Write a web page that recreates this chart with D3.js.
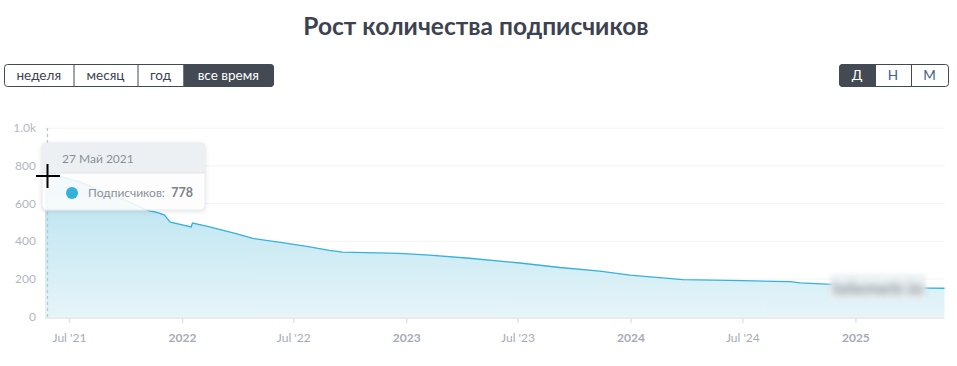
<!DOCTYPE html>
<html>
<head>
<meta charset="utf-8">
<script src="https://cdn.jsdelivr.net/npm/d3@7/dist/d3.min.js"></script>
<style>
  html, body { margin: 0; padding: 0; background: #fff; }
  svg { display: block; font-family: Lato, "Open Sans", sans-serif; }
</style>
</head>
<body>
<svg id="chart" width="957" height="366"></svg>
<script>
// ---- data ----
const dates = ["2021-05-23","2021-05-27","2021-06-15","2021-07-18","2021-08-19","2021-09-29","2021-11-09","2021-11-20","2021-12-03","2021-12-13","2022-01-16","2022-01-18","2022-02-10","2022-03-30","2022-04-26","2022-06-13","2022-07-23","2022-08-29","2022-09-19","2022-12-21","2023-02-08","2023-04-14","2023-07-05","2023-09-08","2023-11-12","2023-12-31","2024-03-26","2024-07-02","2024-09-17","2024-10-03","2024-11-16","2025-04-30","2025-05-26"];
const subscribers = [780,778,746,715,672,619,561,555,540,502,476,497,480,441,415,393,373,352,343,336,327,310,285,261,242,221,197,191,186,179,173,152,151];
const yTicks = [0,200,400,600,800,1000];
const yTickLabels = ["0","200","400","600","800","1.0k"];
const xTickDates = ["2021-07-01","2022-01-01","2022-07-01","2023-01-01","2023-07-01","2024-01-01","2024-07-01","2025-01-01"];
const xTickLabels = ["Jul '21","2022","Jul '22","2023","Jul '23","2024","Jul '24","2025"];
const periodButtons = ["неделя","месяц","год","все время"];
const scaleButtons = ["Д","Н","М"];
const title = "Рост количества подписчиков";
const tooltipDate = "27 Май 2021";
const tooltipLabel = "Подписчиков:";
const tooltipValue = 778;
const watermark = "telemetr.io";

const parse = d3.timeParse("%Y-%m-%d");
const data = dates.map((d,i)=>({date:parse(d), v:subscribers[i]}));

const svg = d3.select("#chart");

// gradient / filters
const defs = svg.append("defs");
const grad = defs.append("linearGradient").attr("id","fillGrad").attr("x1",0).attr("y1",0).attr("x2",0).attr("y2",1);
grad.append("stop").attr("offset","0%").attr("stop-color","#b4e1ef");
grad.append("stop").attr("offset","100%").attr("stop-color","#e5f4f9");
const sh = defs.append("filter").attr("id","shadow").attr("x","-20%").attr("y","-20%").attr("width","140%").attr("height","160%");
sh.append("feDropShadow").attr("dx",0).attr("dy",1).attr("stdDeviation",2).attr("flood-color","#000").attr("flood-opacity",0.12);
const blur = defs.append("filter").attr("id","blur").attr("x","-20%").attr("y","-50%").attr("width","140%").attr("height","200%");
blur.append("feGaussianBlur").attr("stdDeviation",3.6);
const blur2 = defs.append("filter").attr("id","blur2").attr("x","-20%").attr("y","-50%").attr("width","140%").attr("height","200%");
blur2.append("feGaussianBlur").attr("stdDeviation",2);

// title
svg.append("text").attr("x",476).attr("y",35).attr("text-anchor","middle")
  .attr("font-size",24.5).attr("font-weight",700).attr("fill","#3d4250").text(title);

// button groups
function buttonGroup(x0, y0, h, widths, labels, activeIdx, textColors) {
  const g = svg.append("g");
  let x = x0;
  const total = d3.sum(widths);
  g.append("rect").attr("x",x0+0.5).attr("y",y0+0.5).attr("width",total).attr("height",h)
    .attr("rx",3).attr("fill","#fff").attr("stroke","#434a54").attr("stroke-width",1);
  widths.forEach((w,i)=>{
    if (i===activeIdx) {
      const r = g.append("path");
      const first = i===0, last = i===widths.length-1;
      const xl = x+0.5, xr = x+w+0.5, yt = y0+0.5, yb = y0+h+0.5, rr = 3;
      let p = "";
      p += first ? `M${xl+rr},${yt}` : `M${xl},${yt}`;
      p += last ? `L${xr-rr},${yt}Q${xr},${yt} ${xr},${yt+rr}L${xr},${yb-rr}Q${xr},${yb} ${xr-rr},${yb}` : `L${xr},${yt}L${xr},${yb}`;
      p += first ? `L${xl+rr},${yb}Q${xl},${yb} ${xl},${yb-rr}L${xl},${yt+rr}Q${xl},${yt} ${xl+rr},${yt}Z` : `L${xl},${yb}Z`;
      r.attr("d",p).attr("fill","#434a54").attr("stroke","#434a54");
    }
    if (i>0) g.append("line").attr("x1",x+0.5).attr("x2",x+0.5).attr("y1",y0).attr("y2",y0+h+1).attr("stroke","#434a54");
    g.append("text").attr("x",x+w/2).attr("y",y0+h/2+4.5).attr("text-anchor","middle")
      .attr("font-size",13.5).attr("fill", i===activeIdx ? "#fff" : textColors)
      .text(labels[i]);
    x += w;
  });
}
buttonGroup(4, 64, 22, [69.5,64,46,89.5], periodButtons, 3, "#3d4250");
buttonGroup(839, 64, 22, [36,36,37], scaleButtons, 0, "#3f5f8a");

// scales
const x = d3.scaleTime().domain([parse("2021-05-23"), parse("2025-05-26")]).range([45, 944.5]);
const y = d3.scaleLinear().domain([0,1000]).range([316.7, 128.2]);

// grid
svg.append("g").selectAll("line").data(yTicks.filter(d=>d>0)).join("line")
  .attr("x1",45).attr("x2",944.5).attr("y1",d=>y(d)).attr("y2",d=>y(d))
  .attr("stroke","#f3f3f3").attr("stroke-width",1);

// y labels
svg.append("g").selectAll("text").data(yTicks).join("text")
  .attr("x",36).attr("y",(d)=>y(d)+4).attr("text-anchor","end")
  .attr("font-size",12).attr("fill","#b3b8c0")
  .text((d,i)=>yTickLabels[i]);

// area + line
const area = d3.area().x(d=>x(d.date)).y0(y(0)).y1(d=>y(d.v));
svg.append("path").datum(data).attr("d",area).attr("fill","url(#fillGrad)");
const line = d3.line().x(d=>x(d.date)).y(d=>y(d.v));
svg.append("path").datum(data).attr("d",line).attr("fill","none").attr("stroke","#36b2d8").attr("stroke-width",1.3);

// x axis
const xAxis = d3.axisBottom(x).tickValues(xTickDates.map(parse)).tickSize(5).tickFormat((d,i)=>xTickLabels[i]);
const ax = svg.append("g").attr("transform","translate(0,318)").call(xAxis);
ax.select(".domain").attr("stroke","#e3e3e3").attr("stroke-width",1.5).attr("d","M45,0H944.5");
ax.selectAll(".tick line").attr("stroke","#e3e3e3").attr("stroke-width",1.5);
ax.selectAll(".tick text").attr("y",15).attr("font-size",12).attr("fill","#a6abb5")
  .attr("font-family","Lato, 'Open Sans', sans-serif")
  .attr("font-weight",(d,i)=>xTickLabels[i].startsWith("Jul")?400:700);

// crosshair
const hx = x(parse("2021-05-27"));
svg.append("line").attr("x1",hx).attr("x2",hx).attr("y1",128).attr("y2",317)
  .attr("stroke","#bcc6cf").attr("stroke-width",1.3).attr("stroke-dasharray","3,3");

// watermark (blurred)
svg.append("rect").attr("x",830).attr("y",274).attr("width",96).attr("height",26)
  .attr("fill","#eef3f5").attr("filter","url(#blur2)");
svg.append("text").attr("x",878).attr("y",295).attr("text-anchor","middle").attr("font-size",19).attr("font-weight",700)
  .attr("fill","#6f7d87").attr("filter","url(#blur)").attr("opacity",0.8).text(watermark);

// tooltip
const tg = svg.append("g").attr("transform","translate(42,143)");
tg.append("rect").attr("width",163).attr("height",67).attr("rx",4).attr("fill","#fff").attr("fill-opacity",0.85)
  .attr("stroke","#e6e8ea").attr("filter","url(#shadow)");
tg.append("path").attr("d","M0,4Q0,0 4,0H159Q163,0 163,4V30H0Z").attr("fill","#eceff1").attr("fill-opacity",0.95);
tg.append("line").attr("x1",0).attr("x2",163).attr("y1",30).attr("y2",30).attr("stroke","#e0e3e6");
tg.append("text").attr("x",20).attr("y",19.5).attr("font-size",12).attr("fill","#8a9099").text(tooltipDate);
tg.append("circle").attr("cx",30).attr("cy",50).attr("r",6).attr("fill","#34b1da");
tg.append("text").attr("x",46).attr("y",54).attr("font-size",12).attr("fill","#8a9099").text(tooltipLabel);
tg.append("text").attr("x",151).attr("y",54).attr("text-anchor","end").attr("font-size",12.5).attr("font-weight",700).attr("fill","#7b828c").text(tooltipValue);

// mouse cursor cross
const cur = svg.append("g").attr("stroke","#000").attr("stroke-width",2);
cur.append("line").attr("x1",36).attr("x2",60).attr("y1",176).attr("y2",176);
cur.append("line").attr("x1",47.5).attr("x2",47.5).attr("y1",164).attr("y2",188);
</script>
</body>
</html>
